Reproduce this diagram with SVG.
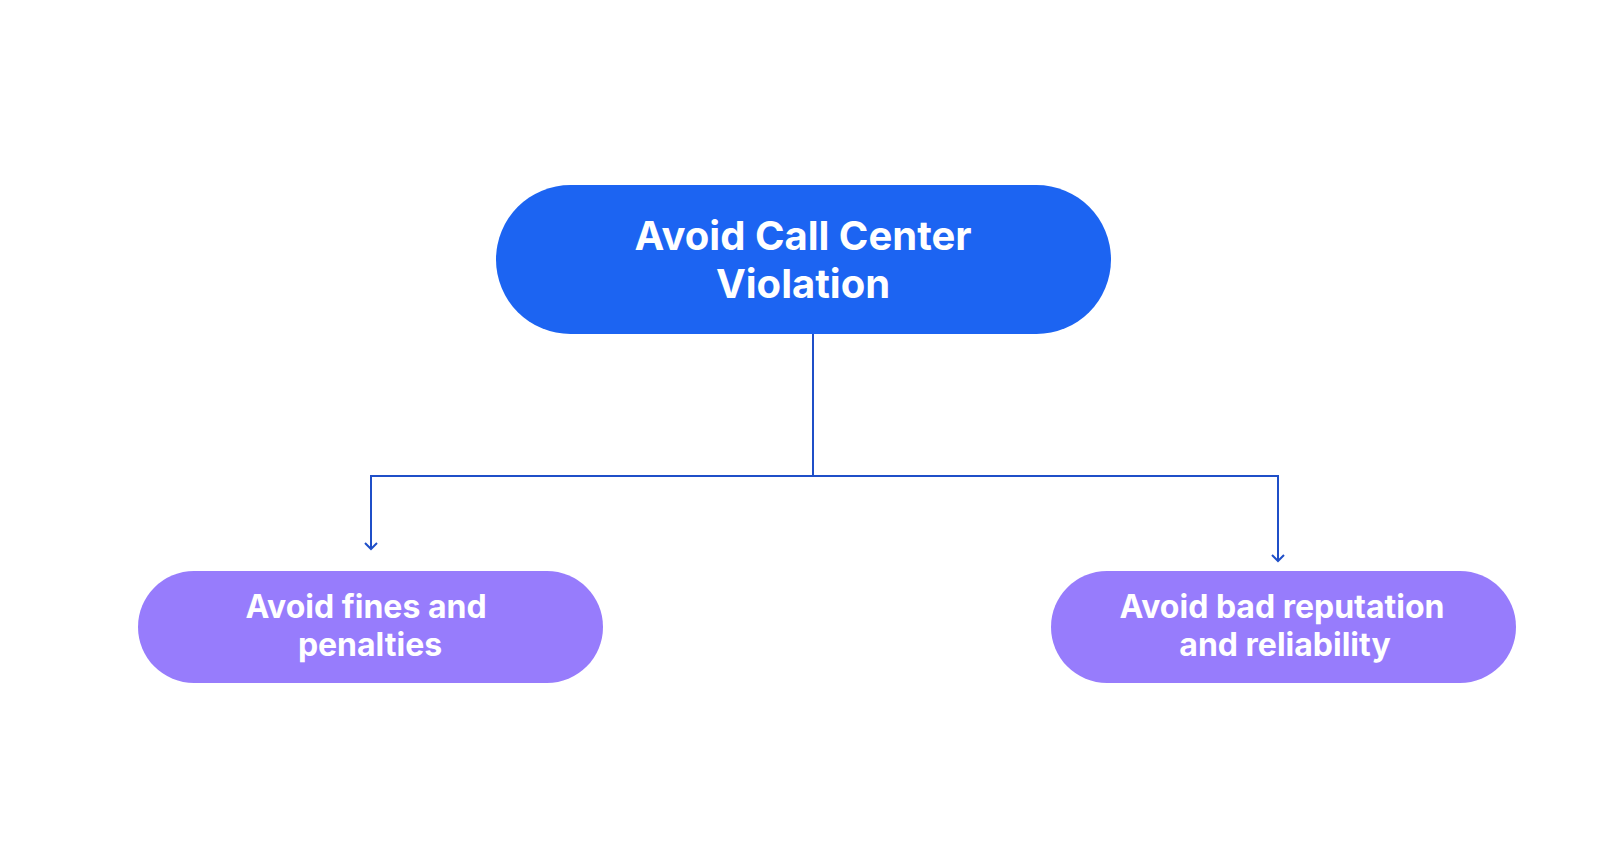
<svg xmlns="http://www.w3.org/2000/svg" width="1600" height="864" viewBox="0 0 1600 864">
<style>
.t{font-family:Inter,"Liberation Sans",sans-serif;font-weight:700;fill:#fff;text-anchor:middle}
.c{fill:none;stroke:#1f4fc8;stroke-width:2}
</style>
<rect width="1600" height="864" fill="#fff"/>
<g id="connectors">
<path class="c" d="M813 333V476H371V549M813 476H1278V561"/>
<path class="c" d="M365 543L371 549L377 543M1272 555L1278 561L1284 555"/>
</g>
<g id="root">
<rect x="496" y="185" width="615" height="149" rx="74.5" fill="#1c64f2"/>
<text class="t" font-size="40" x="803" y="250">Avoid Call Center</text>
<text class="t" font-size="40" x="803" y="298">Violation</text>
</g>
<g id="fines">
<rect x="138" y="571" width="465" height="112" rx="56" fill="#977cfc"/>
<text class="t" font-size="32" x="366" y="618">Avoid fines and</text>
<text class="t" font-size="32" x="370" y="656">penalties</text>
</g>
<g id="reputation">
<rect x="1051" y="571" width="465" height="112" rx="56" fill="#977cfc"/>
<text class="t" font-size="32" x="1282" y="618">Avoid bad reputation</text>
<text class="t" font-size="32" x="1285" y="656">and reliability</text>
</g>
</svg>
